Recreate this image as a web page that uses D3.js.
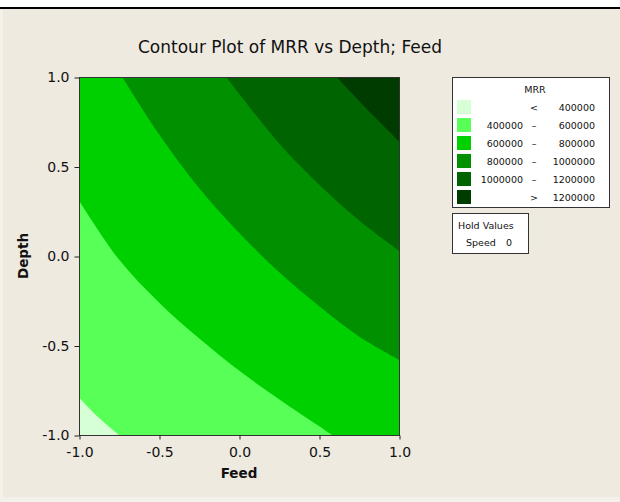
<!DOCTYPE html>
<html>
<head>
<meta charset="utf-8">
<script src="https://cdn.jsdelivr.net/npm/d3@7"></script>
<style>
  body { margin: 0; background: #f4f1ea; }
  svg { display: block; }
  text { font-family: "DejaVu Sans", sans-serif; fill: #111; }
</style>
</head>
<body>
<div class="chart"></div>
<script>
// contour levels and fill colours (lightest = below first level)
var levels = [400000, 600000, 800000, 1000000, 1200000];
var bandColors = ["#d6ffd6", "#57ff57", "#00d000", "#009000", "#006400", "#003c00"];

// contour lines, [feed, depth], left/top end first
var line400 = [[-1, -0.79], [-0.88, -0.90], [-0.75, -1]];
var line600 = [[-1, 0.31], [-0.75, -0.02], [-0.5, -0.26], [-0.25, -0.46], [0, -0.64],
  [0.25, -0.80], [0.5, -0.95], [0.58, -1]];
var line800 = [[-0.73, 1], [-0.5, 0.68], [-0.25, 0.38], [0, 0.13], [0.25, -0.09],
  [0.5, -0.28], [0.75, -0.45], [1, -0.58]];
var line1000 = [[-0.08, 1], [0.25, 0.63], [0.5, 0.40], [0.75, 0.20], [1, 0.03]];
var line1200 = [[0.61, 1], [0.8, 0.82], [1, 0.64]];
var contourLines = [line400, line600, line800, line1000, line1200];

var tickValues = [-1, -0.5, 0, 0.5, 1];
var legendLow = ["", "400000", "600000", "800000", "1000000", ""];
var legendSym = ["<", "\u2013", "\u2013", "\u2013", "\u2013", ">"];
var legendHigh = ["400000", "600000", "800000", "1000000", "1200000", "1200000"];

var svgWidth = 620;
var svgHeight = 502;
var plot = { left: 79, top: 77, width: 320, height: 358 };

var svg = d3.select(".chart")
  .append("svg")
  .attr("width", svgWidth)
  .attr("height", svgHeight);

// window background
svg.append("rect").attr("width", svgWidth).attr("height", 8).attr("fill", "#fff");
svg.append("rect").attr("x", 3).attr("y", 9).attr("width", svgWidth - 3).attr("height", 488)
  .attr("fill", "#eeeae0");
svg.append("line").attr("x1", 0).attr("x2", svgWidth).attr("y1", 8).attr("y2", 8)
  .attr("stroke", "#000").attr("stroke-width", 2);

var x = d3.scaleLinear().domain([-1, 1]).range([plot.left, plot.left + plot.width]);
var y = d3.scaleLinear().domain([-1, 1]).range([plot.top + plot.height, plot.top]);

svg.append("clipPath").attr("id", "plotclip")
  .append("rect")
  .attr("x", plot.left).attr("y", plot.top)
  .attr("width", plot.width).attr("height", plot.height);

var bands = svg.append("g").attr("clip-path", "url(#plotclip)");

bands.append("rect")
  .attr("x", plot.left).attr("y", plot.top)
  .attr("width", plot.width).attr("height", plot.height)
  .attr("fill", bandColors[0]);

var lineGen = d3.line()
  .x(d => x(d[0]))
  .y(d => y(d[1]))
  .curve(d3.curveCatmullRom);

// each band = region above its contour line, painted light to dark
contourLines.forEach(function(pts, i) {
  var start = pts[0];
  var end = pts[pts.length - 1];
  var corners = [];
  if (end[1] === -1) corners.push([1, -1]);
  corners.push([1, 1]);
  if (start[0] === -1) corners.push([-1, 1]);
  var path = lineGen(pts) + corners.map(c => "L" + x(c[0]) + "," + y(c[1])).join("") + "Z";
  bands.append("path")
    .attr("d", path)
    .attr("fill", bandColors[i + 1]);
});

// frame
svg.append("rect")
  .attr("x", plot.left + 0.5).attr("y", plot.top + 0.5)
  .attr("width", plot.width).attr("height", plot.height)
  .attr("fill", "none").attr("stroke", "#333");

var bottomAxis = d3.axisBottom(x).tickValues(tickValues).tickFormat(d => d.toFixed(1))
  .tickSizeInner(4).tickSizeOuter(0).tickPadding(8);
var leftAxis = d3.axisLeft(y).tickValues(tickValues).tickFormat(d => d.toFixed(1))
  .tickSizeInner(5).tickSizeOuter(0).tickPadding(5);

var xAxis = svg.append("g")
  .attr("transform", `translate(0.5, ${plot.top + plot.height + 0.5})`)
  .call(bottomAxis);
var yAxis = svg.append("g")
  .attr("transform", `translate(${plot.left + 0.5}, 0.5)`)
  .call(leftAxis);

[xAxis, yAxis].forEach(function(ax) {
  ax.select(".domain").remove();
  ax.selectAll("line").attr("stroke", "#222");
  ax.selectAll("text").attr("font-size", 14).attr("font-family", "DejaVu Sans").attr("fill", "#222");
});

svg.append("text")
  .attr("x", 290).attr("y", 53)
  .attr("text-anchor", "middle")
  .attr("font-size", 17)
  .text("Contour Plot of MRR vs Depth; Feed");

svg.append("text")
  .attr("x", x(0)).attr("y", 478)
  .attr("text-anchor", "middle")
  .attr("font-size", 13.5).attr("font-weight", "bold")
  .text("Feed");

svg.append("text")
  .attr("transform", `translate(28, ${y(0)}) rotate(-90)`)
  .attr("text-anchor", "middle")
  .attr("font-size", 13.5).attr("font-weight", "bold")
  .text("Depth");

// legend
var legend = svg.append("g");
legend.append("rect")
  .attr("x", 452.5).attr("y", 77.5).attr("width", 157).attr("height", 130)
  .attr("fill", "#fff").attr("stroke", "#333");
legend.append("text")
  .attr("x", 535).attr("y", 93)
  .attr("text-anchor", "middle").attr("font-size", 9.5)
  .text("MRR");

var rows = legend.selectAll("g.row")
  .data(bandColors)
  .enter()
  .append("g")
  .attr("transform", (d, i) => `translate(0, ${100 + i * 18})`);

rows.append("rect")
  .attr("x", 457).attr("y", 0).attr("width", 14).attr("height", 14)
  .attr("fill", d => d);
rows.append("text")
  .attr("x", 523).attr("y", 11)
  .attr("text-anchor", "end").attr("font-size", 9.5)
  .text((d, i) => legendLow[i]);
rows.append("text")
  .attr("x", 534).attr("y", 11)
  .attr("text-anchor", "middle").attr("font-size", 9.5)
  .text((d, i) => legendSym[i]);
rows.append("text")
  .attr("x", 595).attr("y", 11)
  .attr("text-anchor", "end").attr("font-size", 9.5)
  .text((d, i) => legendHigh[i]);

// hold values box
var hold = svg.append("g");
hold.append("rect")
  .attr("x", 452.5).attr("y", 213.5).attr("width", 76).attr("height", 40)
  .attr("fill", "#fff").attr("stroke", "#333");
hold.append("text")
  .attr("x", 458).attr("y", 229).attr("font-size", 9.5)
  .text("Hold Values");
hold.append("text")
  .attr("x", 466).attr("y", 246).attr("font-size", 9.5)
  .text("Speed");
hold.append("text")
  .attr("x", 506).attr("y", 246).attr("font-size", 9.5)
  .text("0");
</script>
</body>
</html>
